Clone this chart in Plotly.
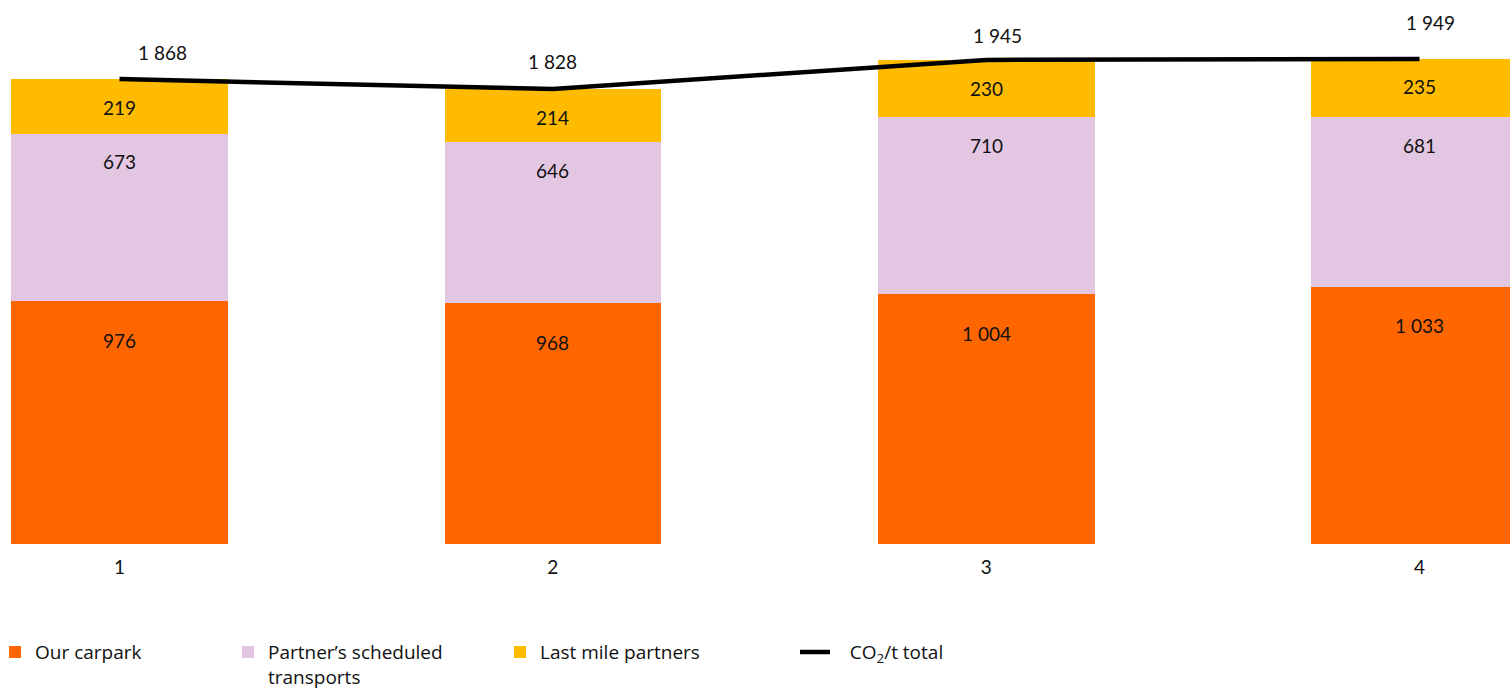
import plotly.graph_objects as go

categories = ["1", "2", "3", "4"]
our_carpark = [976, 968, 1004, 1033]
partner_scheduled = [673, 646, 710, 681]
last_mile = [219, 214, 230, 235]
co2_total = [1868, 1828, 1945, 1949]

series_names = ["Our carpark", "Partner’s scheduled<br>transports", "Last mile partners"]
series_colors = ["#FF6600", "#E3C6E2", "#FFBB00"]
line_name = "\u00a0\u00a0\u00a0CO<sub>2</sub>/t total"

FONT = "Lato, 'Noto Sans', sans-serif"
LEG_FONT = "'Open Sans', Lato, sans-serif"
TXT = "#111111"

xpos = list(range(len(categories)))

def fmt(v):
    return f"{v:,}".replace(",", "\u00a0")

fig = go.Figure()
series_vals = [our_carpark, partner_scheduled, last_mile]
legend_ids = ["legend", "legend2", "legend3"]
for name, vals, col, lg in zip(series_names, series_vals, series_colors, legend_ids):
    fig.add_trace(go.Bar(x=xpos, y=vals, name=name, marker=dict(color=col, line=dict(width=0)),
                         legend=lg, hoverinfo="skip"))

fig.add_trace(go.Scatter(x=xpos, y=co2_total, name=line_name, mode="lines",
                         line=dict(color="black", width=4.5), legend="legend4"))

# segment labels (offset from segment top, px)
seg_offsets = [-39, -28, -28]
annotations = []
cum = [0] * len(categories)
for vals, off in zip(series_vals, seg_offsets):
    cum = [c + v for c, v in zip(cum, vals)]
    for x, v, top in zip(xpos, vals, cum):
        annotations.append(dict(x=x, y=top, text=fmt(v), showarrow=False, yshift=off,
                                font=dict(family=FONT, size=19, color=TXT)))

total_dx = [43, 0, 11, 11]
total_dy = [27, 28, 24, 36]
for x, v, dx, dy in zip(xpos, co2_total, total_dx, total_dy):
    annotations.append(dict(x=x, y=v, text=fmt(v), showarrow=False, xshift=dx, yshift=dy,
                            font=dict(family=FONT, size=19, color=TXT)))

leg_common = dict(orientation="h", yanchor="top", y=-0.164, xanchor="left", valign="top",
                  font=dict(family=LEG_FONT, size=19, color=TXT), bgcolor="rgba(0,0,0,0)",
                  borderwidth=0, tracegroupgap=0)

fig.update_layout(
    width=1510, height=690,
    margin=dict(l=0, r=0, t=0, b=146, autoexpand=False),
    plot_bgcolor="white", paper_bgcolor="white",
    barmode="stack", bargap=0.5,
    font=dict(family=FONT, size=19, color=TXT),
    xaxis=dict(range=[-0.2758, 3.2088], showgrid=False, zeroline=False,
               showline=False, ticks="", ticklabelstandoff=10,
               tickvals=xpos, ticktext=categories,
               tickfont=dict(family=FONT, size=19, color=TXT)),
    yaxis=dict(range=[0, 2185.6], visible=False, showgrid=False, zeroline=False),
    legend=dict(x=-5 / 1510, **leg_common),
    legend2=dict(x=228 / 1510, **leg_common),
    legend3=dict(x=500 / 1510, **leg_common),
    legend4=dict(x=795 / 1510, **leg_common),
    annotations=annotations,
    showlegend=True,
)

fig.write_html("out.html")
